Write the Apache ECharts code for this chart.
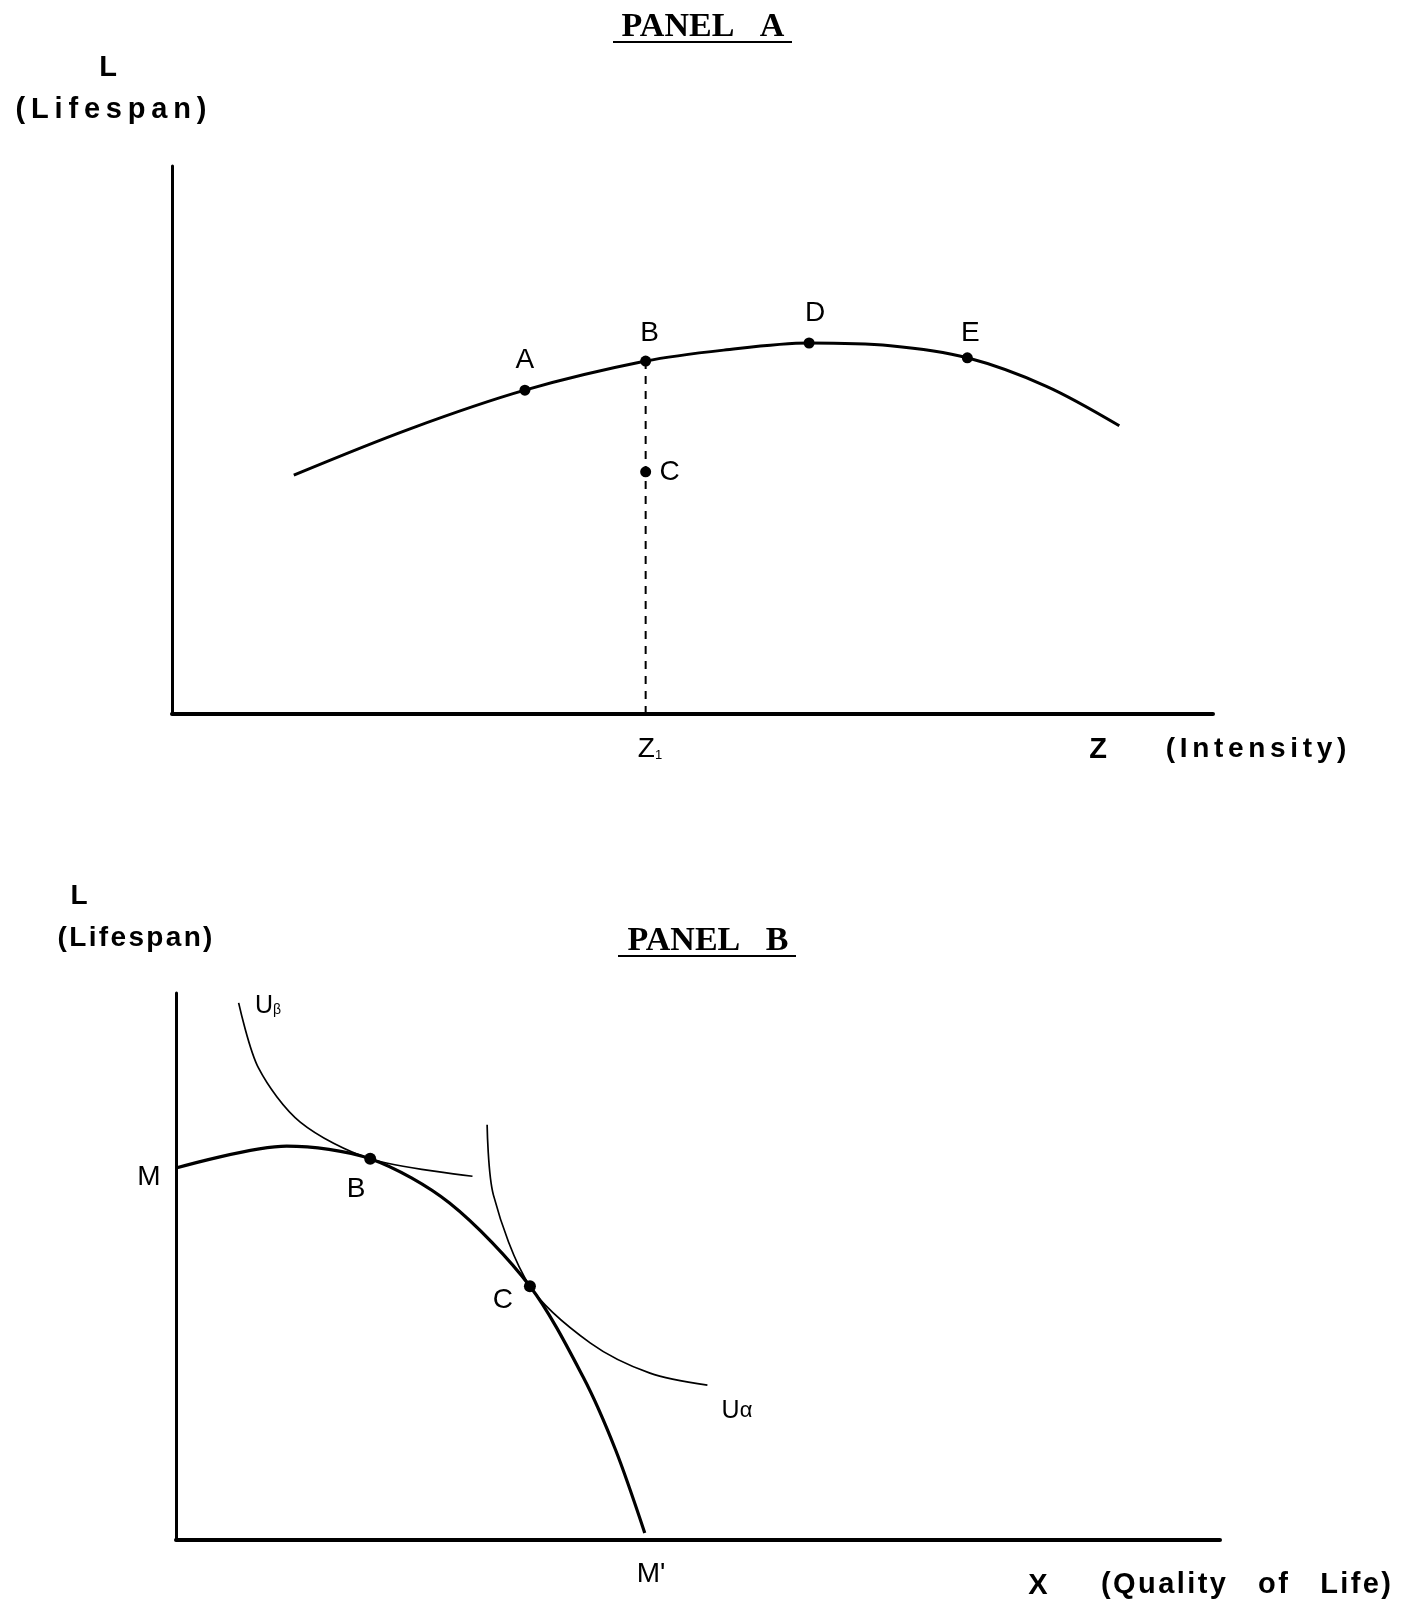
<!DOCTYPE html>
<html>
<head>
<meta charset="utf-8">
<script src="https://cdn.jsdelivr.net/npm/echarts@6/dist/echarts.min.js"></script>
<style>
html, body { margin: 0; padding: 0; background: #fff; }
#chart { width: 1412px; height: 1605px; }
</style>
</head>
<body>
<div id="chart"></div>
<script>
// Panel A: lifespan vs intensity (axis units 0..100)
const curveZ = [11.7, 22.8, 33.9, 45.5, 53, 61.2, 69, 76.4, 84, 91];
const curveL = [43.6, 52.0, 59.1, 64.4, 66.4, 67.7, 67.2, 65.0, 59.8, 52.6];
const pointsA = ['A', 'B', 'D', 'E', 'C'];
const pointsAZ = [33.9, 45.5, 61.2, 76.4, 45.5];
const pointsAL = [59.1, 64.4, 67.7, 65.0, 44.2];
const z1 = 45.5;

// Panel B: lifespan vs quality of life
const frontierX = [0, 10.6, 18.6, 26.2, 33.9, 39.0, 42.1, 44.9];
const frontierL = [68.0, 72.0, 69.7, 61.6, 46.4, 29.8, 16.5, 1.3];
const uBetaX = [6.0, 7.9, 11.9, 18.6, 28.4];
const uBetaL = [98.2, 86.3, 76.4, 69.7, 66.5];
const uAlphaX = [29.8, 30.4, 33.9, 39.7, 45.4, 50.9];
const uAlphaL = [75.9, 63.1, 46.4, 36.0, 30.5, 28.3];
const pointsB = ['B', 'C'];
const pointsBX = [18.6, 33.9];
const pointsBL = [69.7, 46.4];

const pairs = (xs, ys) => xs.map((x, i) => [x, ys[i]]);

// label offsets (pixels) for the point letters
const offsA = { A: [0, -30], B: [4, -28], D: [6, -30], E: [3, -25], C: [24, 0] };
const offsB = { B: [-14, 31], C: [-27, 14] };

const chart = echarts.init(document.getElementById('chart'));

const sans = '"Liberation Sans", Arial, sans-serif';
const serif = '"Liberation Serif", "Times New Roman", serif';
const hs = '\u200A';
const spaced = (s, sep) => s.split('').join(sep);

function axisX(grid, lw) {
    return {
        type: 'value', gridIndex: grid, min: 0, max: 100,
        axisLine: { show: true, onZero: false, lineStyle: { color: '#000', width: lw } },
        axisTick: { show: false }, axisLabel: { show: false }, splitLine: { show: false }
    };
}
function axisY(grid, lw) {
    return {
        type: 'value', gridIndex: grid, min: 0, max: 100,
        axisLine: { show: true, onZero: false, lineStyle: { color: '#000', width: lw } },
        axisTick: { show: false }, axisLabel: { show: false }, splitLine: { show: false }
    };
}

function text(x, y, t, font, extra) {
    return Object.assign({
        type: 'text', x: x, y: y, z: 10,
        style: { text: t, font: font, fill: '#000', align: 'center', verticalAlign: 'middle' }
    }, extra || {});
}

const pointLabel = (offs) => (name) => ({
    show: true, formatter: '{b}', position: 'inside', offset: offs[name],
    color: '#000', opacity: 1, fontFamily: sans, fontSize: 28
});

let option = {
    backgroundColor: '#fff',
    animation: false,
    grid: [
        { left: 172, top: 166, width: 1041, height: 548 },
        { left: 176, top: 993, width: 1044, height: 547 }
    ],
    xAxis: [axisX(0, 4), axisX(1, 4)],
    yAxis: [axisY(0, 3), axisY(1, 3)],
    series: [
        {
            type: 'line', xAxisIndex: 0, yAxisIndex: 0,
            data: pairs(curveZ, curveL), smooth: 0.33, symbol: 'none',
            lineStyle: { color: '#000', width: 3 }
        },
        {
            type: 'line', xAxisIndex: 0, yAxisIndex: 0,
            data: [[z1, 0], [z1, pointsAL[1]]], symbol: 'none',
            lineStyle: { color: '#000', width: 2, type: [8, 7] }
        },
        {
            type: 'scatter', xAxisIndex: 0, yAxisIndex: 0, symbolSize: 11,
            itemStyle: { color: '#000', opacity: 1 },
            data: pointsA.map((n, i) => ({ name: n, value: [pointsAZ[i], pointsAL[i]], label: pointLabel(offsA)(n) }))
        },
        {
            type: 'line', xAxisIndex: 1, yAxisIndex: 1,
            data: pairs(frontierX, frontierL), smooth: 0.3, symbol: 'none',
            lineStyle: { color: '#000', width: 3.2 }
        },
        {
            type: 'line', xAxisIndex: 1, yAxisIndex: 1,
            data: pairs(uBetaX, uBetaL), smooth: 0.3, symbol: 'none',
            lineStyle: { color: '#000', width: 1.7 }
        },
        {
            type: 'line', xAxisIndex: 1, yAxisIndex: 1,
            data: pairs(uAlphaX, uAlphaL), smooth: 0.3, symbol: 'none',
            lineStyle: { color: '#000', width: 1.7 }
        },
        {
            type: 'scatter', xAxisIndex: 1, yAxisIndex: 1, symbolSize: 12,
            itemStyle: { color: '#000', opacity: 1 },
            data: pointsB.map((n, i) => ({ name: n, value: [pointsBX[i], pointsBL[i]], label: pointLabel(offsB)(n) }))
        }
    ],
    graphic: [
        // panel A titles
        text(703, 27, 'PANEL   A', 'bold 34px ' + serif),
        { type: 'line', shape: { x1: 613, y1: 42, x2: 792, y2: 42 }, style: { stroke: '#000', lineWidth: 2 } },
        text(108, 68, 'L', 'bold 29px ' + sans),
        text(111, 110, spaced('(Lifespan)', '\u2009'), 'bold 29px ' + sans),
        text(650, 749, '', '', {
            style: {
                text: '{z|Z}{s|1}', fill: '#000', align: 'center', verticalAlign: 'middle',
                rich: {
                    z: { fontFamily: sans, fontSize: 28, fill: '#000' },
                    s: { fontFamily: sans, fontSize: 13, fill: '#000', padding: [12, 0, 0, 0] }
                }
            }
        }),
        text(1098, 750, 'Z', 'bold 29px ' + sans),
        text(1256, 749, spaced('(Intensity)', hs + hs), 'bold 28px ' + sans),

        // panel B titles
        text(79, 896, 'L', 'bold 28px ' + sans),
        text(135, 938, spaced('(Lifespan)', hs), 'bold 28px ' + sans),
        text(708, 941, 'PANEL   B', 'bold 34px ' + serif),
        { type: 'line', shape: { x1: 618, y1: 956, x2: 796, y2: 956 }, style: { stroke: '#000', lineWidth: 2 } },
        text(149, 1177, 'M', '28px ' + sans),
        text(268, 1006, '', '', {
            style: {
                text: '{u|U}{s|\u03B2}', fill: '#000', align: 'center', verticalAlign: 'middle',
                rich: {
                    u: { fontFamily: sans, fontSize: 25, fill: '#000' },
                    s: { fontFamily: sans, fontSize: 14, fill: '#000', padding: [8, 0, 0, 0] }
                }
            }
        }),
        text(737, 1411, '', '', {
            style: {
                text: '{u|U}{s|\u03B1}', fill: '#000', align: 'center', verticalAlign: 'middle',
                rich: {
                    u: { fontFamily: sans, fontSize: 25, fill: '#000' },
                    s: { fontFamily: sans, fontSize: 22, fill: '#000' }
                }
            }
        }),
        text(651, 1574, "M'", '28px ' + sans),
        text(1038, 1586, 'X', 'bold 29px ' + sans),
        text(1246, 1585, spaced('(Quality', hs) + '    ' + spaced('of', hs) + '    ' + spaced('Life)', hs), 'bold 29px ' + sans)
    ]
};

option && chart.setOption(option);
</script>
</body>
</html>
